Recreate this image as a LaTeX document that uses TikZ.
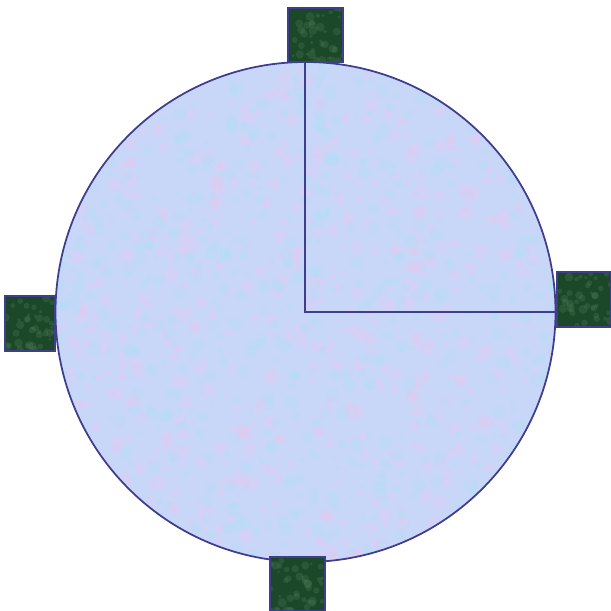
\documentclass[tikz,border=0pt]{standalone}
\usepackage{xcolor}
\usepackage{tikz}

\definecolor{dialfill}{RGB}{200,214,247}
\definecolor{dialpink}{RGB}{232,200,242}
\definecolor{dialcyan}{RGB}{176,224,248}
\definecolor{dialedge}{RGB}{62,62,140}
\definecolor{padfill}{RGB}{28,72,42}
\definecolor{padlight}{RGB}{70,120,82}

\begin{document}
\begin{tikzpicture}[
    x=0.02cm, y=-0.02cm,
    dial/.style={draw=dialedge, line width=1pt},
    hand/.style={draw=dialedge, line width=1pt},
    pad/.style={draw=dialedge, line width=1pt},
    fleck/.style={fill=#1, opacity=0.35},
]
\useasboundingbox (0,0) rectangle (611,611);
\pgfmathsetseed{7}

% Dial
\fill[dialfill] (305.5,312) circle[radius=250];
\begin{scope}
  \clip (305.5,312) circle[radius=250];
  \foreach \c in {dialpink, dialcyan}{
    \foreach \i in {1,...,700}{
      \pgfmathsetmacro{\px}{55+rnd*502}
      \pgfmathsetmacro{\py}{62+rnd*500}
      \pgfmathsetmacro{\pr}{2+rnd*5}
      \fill[fleck=\c] (\px,\py) circle[radius=\pr];
    }
  }
\end{scope}
\draw[dial] (305.5,312) circle[radius=250];
\coordinate (hub) at (305,312);
\coordinate (tip12) at (305,62);
\coordinate (tip3) at (556,312);

% Hands
\draw[hand] (tip12) -- (hub) -- (tip3);

% Pads
\foreach \xa/\ya/\xb/\yb in {288/8/343/62, 557/272/611/327, 5/296/55/351, 270/557/325/611}{
  \begin{scope}
    \clip (\xa,\ya) rectangle (\xb,\yb);
    \fill[padfill] (\xa,\ya) rectangle (\xb,\yb);
    \foreach \j in {1,...,40}{
      \pgfmathsetmacro{\qx}{\xa+rnd*(\xb-\xa)}
      \pgfmathsetmacro{\qy}{\ya+rnd*(\yb-\ya)}
      \pgfmathsetmacro{\qr}{1.5+rnd*3}
      \fill[padlight, opacity=0.35] (\qx,\qy) circle[radius=\qr];
    }
  \end{scope}
  \draw[pad] (\xa,\ya) rectangle (\xb,\yb);
}
\end{tikzpicture}
\end{document}
